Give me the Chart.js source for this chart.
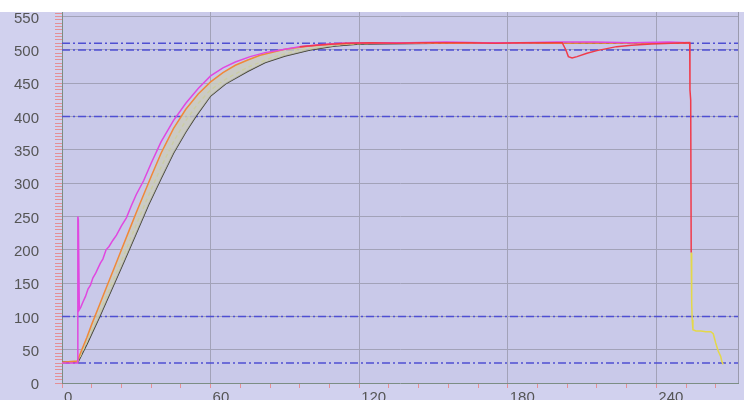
<!DOCTYPE html>
<html>
<head>
<meta charset="utf-8">
<script src="https://cdn.jsdelivr.net/npm/chart.js@4/dist/chart.umd.min.js"></script>
<style>
  html, body { margin: 0; padding: 0; background: #ffffff; overflow: hidden; }
  #wrap { position: absolute; left: 0; top: 0; width: 744px; height: 400px; }
</style>
</head>
<body>
<div id="wrap"><canvas id="trend" width="744" height="400"></canvas></div>
<script>
// Axis ranges and labelled ticks
const xMax = 273;
const yMax = 557;
const xLabelStep = 60;   // labelled ticks on the time axis
const xMinorStep = 12;   // small tick marks on the time axis
const yLabelStep = 50;   // labelled ticks on the value axis
const yMinorStep = 5;    // ruler marks on the value axis

// Alarm / reference levels (dash-dot lines)
const refLevels = [510, 500, 400, 100, 30];

// Setpoint trace (magenta)
const spTime  = [0, 5, 6.2, 6.4, 6.6, 7, 7.6, 8.5, 9.5, 10.5, 11.5, 12.5, 13.5, 14.5, 15.5, 16.5, 17.8, 19, 20.5, 22, 24, 26, 28, 30, 33, 36, 40, 45, 50, 55, 60, 65, 70, 76, 82, 90, 96, 104, 112, 125, 140, 155, 170, 185, 200, 215, 230, 245, 253];
const spValue = [30, 30, 30, 250, 245, 110, 114, 122, 130, 141, 147, 158, 164, 172, 180, 186, 200, 205, 214, 222, 236, 248, 266, 283, 304, 330, 362, 394, 420, 442, 461, 473, 482, 490, 496, 501, 505, 508, 510, 511, 511, 512, 511, 511, 512, 512, 511, 512, 511];

// Zone 1 (orange)
const z1Time  = [0, 6.2, 8, 10, 12, 15, 18, 21, 24, 27, 30, 33, 36, 40, 45, 50, 55, 60, 65, 70, 75, 80, 90, 100, 110, 120, 140, 160, 180, 200, 220, 240, 253];
const z1Value = [31, 33, 50, 68, 88, 116, 144, 172, 200, 228, 256, 283, 310, 345, 382, 411, 434, 452, 466, 477, 485, 492, 501, 506, 509, 510, 511, 510, 511, 510, 511, 510, 511];

// Zone 2 (yellow-green, dashed)
const z2Time  = [0, 6.3, 10, 15, 20, 25, 30, 35, 40, 45, 50, 55, 60, 66, 75, 85, 95, 105, 115, 125, 150, 200, 253];
const z2Value = [30, 32, 62, 105, 148, 192, 238, 282, 324, 362, 394, 420, 440, 456, 474, 489, 499, 505, 509, 510, 510, 511, 510];

// Zone 3 (dark)
const z3Time  = [0, 6.5, 10, 15, 20, 25, 30, 35, 40, 45, 50, 54, 60, 66, 75, 82, 90, 100, 110, 120, 150, 180, 210, 240, 253];
const z3Value = [31, 32, 58, 98, 140, 182, 225, 268, 307, 345, 377, 400, 431, 449, 468, 481, 491, 500, 506, 509, 510, 510, 510, 510, 510];

// Process value (red), including the disturbance and the shutdown drop
const pvTime  = [96, 105, 115, 125, 135, 145, 155, 165, 175, 185, 195, 202, 203.5, 204.5, 206, 208, 212, 216, 220, 224, 230, 238, 246, 253.5, 253.6, 253.9, 254.1];
const pvValue = [505, 508, 510, 511, 510, 511, 511, 511, 510, 511, 511, 511, 500, 490, 488, 490, 495, 499, 502, 505, 507, 509, 510, 511, 440, 425, 196];

// Cool-down tail (yellow)
const tailTime  = [254.1, 254.3, 254.5, 254.8, 256, 258, 260, 262, 263, 264, 265, 266, 266.5, 267];
const tailValue = [196, 120, 95, 80, 78, 78, 77, 77, 74, 60, 48, 40, 32, 28];

const toPoints = (t, v) => t.map((x, i) => ({ x: x, y: v[i] }));

const PLOT_BG = '#c9c9e9';
const OUTER_BG = '#d1d1ee';
const GRID = '#a2a2b8';
const AXIS = '#7c8e84';
const TICK = '#e49096';
const LABEL = '#555555';

function trace(data, color, extra) {
  return Object.assign({
    data: data,
    borderColor: color,
    borderWidth: 1.5,
    pointRadius: 0,
    fill: false,
    tension: 0
  }, extra || {});
}

const datasets = [
  trace(toPoints(pvTime, pvValue), '#f03a4a'),
  trace(toPoints(tailTime, tailValue), '#e4d84a'),
  trace(toPoints(spTime, spValue), '#e048e0'),
  trace(toPoints(z1Time, z1Value), '#f08838', { fill: { target: 5 }, backgroundColor: 'rgba(204,204,188,0.8)' }),
  trace(toPoints(z2Time, z2Value), '#c8d048', { borderDash: [4, 3] }),
  trace(toPoints(z3Time, z3Value), '#3c3c30')
];
refLevels.forEach(level => {
  datasets.push(trace([{ x: 0, y: level }, { x: xMax, y: level }], '#4f4fd2', {
    borderDash: [8, 3, 2, 3], borderWidth: 1.5
  }));
});

// Panel backgrounds and the right frame edge
const panel = {
  id: 'panel',
  beforeDraw(chart) {
    const { ctx, chartArea: a, width, height } = chart;
    ctx.save();
    ctx.fillStyle = '#ffffff';
    ctx.fillRect(0, 0, width, height);
    ctx.fillStyle = OUTER_BG;
    ctx.fillRect(0, a.top, width, height - a.top);
    ctx.fillStyle = PLOT_BG;
    ctx.fillRect(a.left, a.top, a.right - a.left, a.bottom - a.top);
    ctx.restore();
  },
  afterDraw(chart) {
    const { ctx, chartArea: a } = chart;
    ctx.save();
    ctx.strokeStyle = '#9a9aae';
    ctx.lineWidth = 1;
    ctx.beginPath();
    ctx.moveTo(a.right + 0.5, a.top);
    ctx.lineTo(a.right + 0.5, a.bottom);
    ctx.stroke();
    ctx.restore();
  }
};

function stepTicks(max, step) {
  const out = [];
  for (let v = 0; v <= max; v += step) out.push({ value: v });
  return out;
}

// Fixed axis sizes; label overhang is allowed to spill past the plot frame
function fixSize(prop, size) {
  return s => {
    s[prop] = size;
    s.paddingTop = 0; s.paddingBottom = 0; s.paddingLeft = 0; s.paddingRight = 0;
  };
}

new Chart(document.getElementById('trend'), {
  type: 'line',
  data: { datasets: datasets },
  plugins: [panel],
  options: {
    responsive: false,
    animation: false,
    layout: { padding: { top: 12, right: 6, left: 0, bottom: 0 } },
    plugins: { legend: { display: false }, tooltip: { enabled: false } },
    scales: {
      x: {
        type: 'linear',
        min: 0,
        max: xMax,
        afterBuildTicks: s => { s.ticks = stepTicks(xMax, xMinorStep); },
        afterFit: fixSize('height', 17),
        border: { color: AXIS, width: 1 },
        grid: {
          color: c => (c.tick && c.tick.value > 0 && c.tick.value % xLabelStep === 0) ? GRID : 'rgba(0,0,0,0)',
          tickColor: TICK,
          tickLength: 5,
          lineWidth: 1
        },
        ticks: {
          autoSkip: false,
          maxRotation: 0,
          align: 'start',
          labelOffset: 2,
          padding: 1,
          color: LABEL,
          font: { family: 'Liberation Sans, Arial, sans-serif', size: 15 },
          callback: v => (v % xLabelStep === 0 ? String(v) : '')
        }
      },
      y: {
        type: 'linear',
        min: 0,
        max: yMax,
        afterBuildTicks: s => { s.ticks = stepTicks(yMax, yMinorStep); },
        afterFit: fixSize('width', 62),
        border: { color: AXIS, width: 1 },
        grid: {
          color: c => (c.tick && c.tick.value > 0 && c.tick.value % yLabelStep === 0) ? GRID : 'rgba(0,0,0,0)',
          tickColor: TICK,
          tickLength: 7,
          lineWidth: 1
        },
        ticks: {
          autoSkip: false,
          padding: 16,
          labelOffset: 2,
          color: LABEL,
          font: { family: 'Liberation Sans, Arial, sans-serif', size: 15 },
          callback: v => (v % yLabelStep === 0 ? String(v) : '')
        }
      }
    }
  }
});
</script>
</body>
</html>
